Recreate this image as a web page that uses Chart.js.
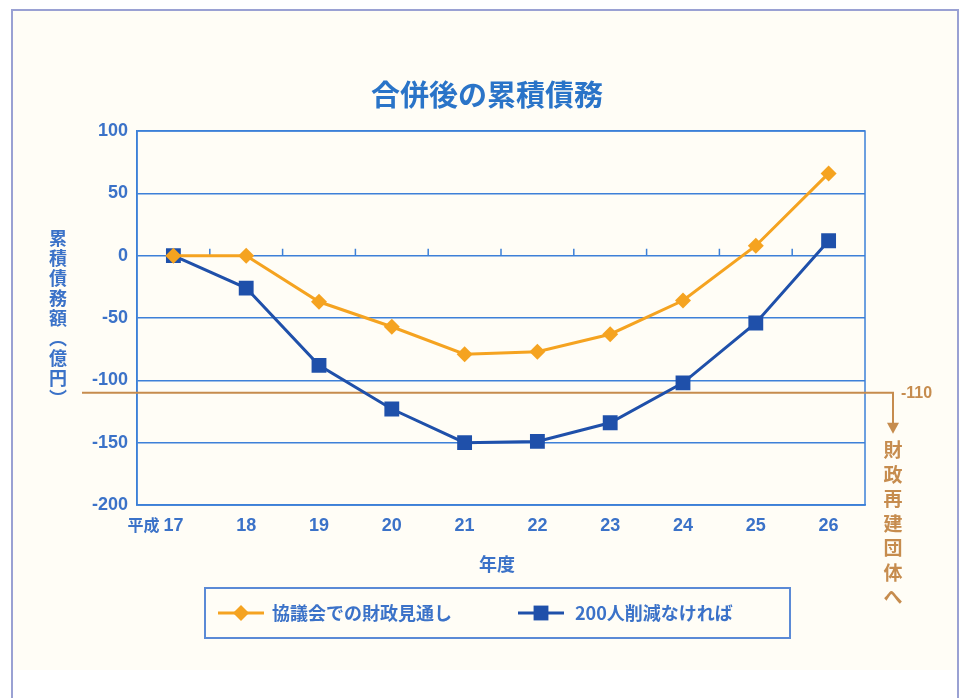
<!DOCTYPE html>
<html>
<head>
<meta charset="utf-8">
<script src="https://cdn.jsdelivr.net/npm/chart.js@4.4.1/dist/chart.umd.min.js"></script>
<style>
  html, body { margin: 0; padding: 0; background: #ffffff; }
  #wrap { width: 960px; height: 698px; }
</style>
</head>
<body>
<div id="wrap"><canvas id="myChart" width="960" height="698"></canvas></div>
<script>
// 年度 (平成)
const years = ['17', '18', '19', '20', '21', '22', '23', '24', '25', '26'];
// 協議会での財政見通し (億円)
const outlookValues = [0, 0, -37, -57, -79, -77, -63, -36, 8, 66];
// 200人削減なければ (億円)
const noCutValues = [0, -26, -88, -123, -150, -149, -134, -102, -54, 12];
const yTicks = [100, 50, 0, -50, -100, -150, -200];
const limitValue = -110;

const titleText = '合併後の累積債務';
const yTitleChars = ['累', '積', '債', '務', '額', '︵', '億', '円', '︶'];
const xTitleText = '年度';
const eraText = '平成';
const limitNoteChars = ['財', '政', '再', '建', '団', '体', 'へ'];

const cjk = '"Noto Sans CJK JP", sans-serif';
const num = '"Liberation Sans Narrow", "Liberation Sans", sans-serif';
const axisBlue = '#3d80d8';
const textBlue = '#3b72c8';
const limitColor = '#c68c4e';

const decorPlugin = {
  id: 'decor',
  beforeDraw(chart) {
    const ctx = chart.ctx;
    ctx.save();
    ctx.fillStyle = '#fffdf6';
    ctx.fillRect(12, 10, 946, 660);
    ctx.strokeStyle = '#9aa1d3';
    ctx.lineWidth = 2;
    ctx.beginPath();
    ctx.moveTo(12, 698);
    ctx.lineTo(12, 10);
    ctx.lineTo(958, 10);
    ctx.lineTo(958, 698);
    ctx.stroke();
    ctx.restore();
  },
  beforeDatasetsDraw(chart) {
    const ctx = chart.ctx;
    const area = chart.chartArea;
    const xs = chart.scales.x;
    const ys = chart.scales.y;
    ctx.save();

    // plot frame
    ctx.strokeStyle = axisBlue;
    ctx.lineWidth = 1.5;
    ctx.strokeRect(area.left, area.top, area.right - area.left, area.bottom - area.top);

    // small ticks on the zero line between categories
    const y0 = ys.getPixelForValue(0);
    ctx.beginPath();
    for (let i = 0; i < years.length - 1; i++) {
      const x = (xs.getPixelForValue(i) + xs.getPixelForValue(i + 1)) / 2;
      ctx.moveTo(x, y0);
      ctx.lineTo(x, y0 - 7);
    }
    ctx.stroke();

    // -110 line with arrow
    const yl = ys.getPixelForValue(limitValue);
    const xr = area.right + 28;
    ctx.strokeStyle = limitColor;
    ctx.lineWidth = 2;
    ctx.beginPath();
    ctx.moveTo(82, yl);
    ctx.lineTo(xr, yl);
    ctx.lineTo(xr, yl + 32);
    ctx.stroke();
    ctx.fillStyle = limitColor;
    ctx.beginPath();
    ctx.moveTo(xr - 6, yl + 30);
    ctx.lineTo(xr + 6, yl + 30);
    ctx.lineTo(xr, yl + 41);
    ctx.closePath();
    ctx.fill();
    ctx.restore();
  },
  afterDraw(chart) {
    const ctx = chart.ctx;
    const area = chart.chartArea;
    const xs = chart.scales.x;
    const ys = chart.scales.y;
    ctx.save();

    // title
    ctx.fillStyle = '#2a74c8';
    ctx.font = 'bold 29px ' + cjk;
    ctx.textAlign = 'center';
    ctx.textBaseline = 'middle';
    ctx.fillText(titleText, 487, 95);

    // y title, stacked vertically
    ctx.fillStyle = textBlue;
    ctx.font = 'bold 18px ' + cjk;
    yTitleChars.forEach((c, i) => {
      ctx.fillText(c, 58, 238 + i * 20);
    });

    // x title
    ctx.font = 'bold 18px ' + cjk;
    ctx.fillText(xTitleText, 497, 564);

    // era prefix before the first year
    ctx.font = 'bold 16px ' + cjk;
    ctx.textAlign = 'right';
    ctx.fillText(eraText, xs.getPixelForValue(0) - 14, 525);

    // -110 label and note
    const yl = ys.getPixelForValue(limitValue);
    const xr = area.right + 28;
    ctx.fillStyle = limitColor;
    ctx.textAlign = 'left';
    ctx.font = 'bold 16px ' + num;
    ctx.fillText('-' + Math.abs(limitValue), xr + 8, yl + 1);
    ctx.textAlign = 'center';
    ctx.font = 'bold 19px ' + cjk;
    limitNoteChars.forEach((c, i) => {
      ctx.fillText(c, xr, yl + 57 + i * 24.5);
    });

    // legend box
    ctx.strokeStyle = '#5b8ad6';
    ctx.lineWidth = 2;
    ctx.strokeRect(205, 588, 585, 50);
    const items = [{ x: 218, tx: 272 }, { x: 518, tx: 575 }];
    chart.data.datasets.forEach((ds, i) => {
      const it = items[i];
      const ly = 613;
      ctx.strokeStyle = ds.borderColor;
      ctx.lineWidth = 3;
      ctx.beginPath();
      ctx.moveTo(it.x, ly);
      ctx.lineTo(it.x + 46, ly);
      ctx.stroke();
      ctx.fillStyle = ds.backgroundColor;
      ctx.strokeStyle = ds.backgroundColor;
      Chart.helpers.drawPoint(ctx, {
        pointStyle: ds.pointStyle,
        radius: ds.pointRadius,
        borderWidth: 0
      }, it.x + 23, ly);
      ctx.fillStyle = textBlue;
      ctx.font = 'bold 18px ' + cjk;
      ctx.textAlign = 'left';
      ctx.textBaseline = 'middle';
      ctx.fillText(ds.label, it.tx, ly);
    });
    ctx.restore();
  }
};

const ctx = document.getElementById('myChart').getContext('2d');
const myChart = new Chart(ctx, {
  type: 'line',
  data: {
    labels: years,
    datasets: [
      {
        label: '協議会での財政見通し',
        data: outlookValues,
        borderColor: '#f5a320',
        backgroundColor: '#f5a320',
        borderWidth: 3,
        pointStyle: 'rectRot',
        pointRadius: 8,
        pointBorderWidth: 0,
        tension: 0
      },
      {
        label: '200人削減なければ',
        data: noCutValues,
        borderColor: '#1f50aa',
        backgroundColor: '#1f50aa',
        borderWidth: 3,
        pointStyle: 'rect',
        pointRadius: 10.5,
        pointBorderWidth: 0,
        tension: 0
      }
    ]
  },
  options: {
    responsive: false,
    animation: false,
    layout: { padding: { left: 0, top: 131, right: 95, bottom: 153 } },
    plugins: {
      legend: { display: false },
      title: { display: false },
      tooltip: { enabled: false }
    },
    scales: {
      x: {
        offset: true,
        grid: { display: false, drawTicks: false },
        border: { display: true, color: axisBlue, width: 1.5 },
        ticks: {
          color: textBlue,
          padding: 10,
          font: { family: num, size: 18, weight: 'bold' }
        },
        afterFit(scale) { scale.height = 40; }
      },
      y: {
        min: Math.min(...yTicks),
        max: Math.max(...yTicks),
        ticks: {
          stepSize: 50,
          color: textBlue,
          padding: 9,
          font: { family: num, size: 18, weight: 'bold' }
        },
        grid: { color: axisBlue, lineWidth: 1.5, drawTicks: false },
        border: { display: true, color: axisBlue, width: 1.5 },
        afterFit(scale) { scale.width = 137; }
      }
    }
  },
  plugins: [decorPlugin]
});
</script>
</body>
</html>
